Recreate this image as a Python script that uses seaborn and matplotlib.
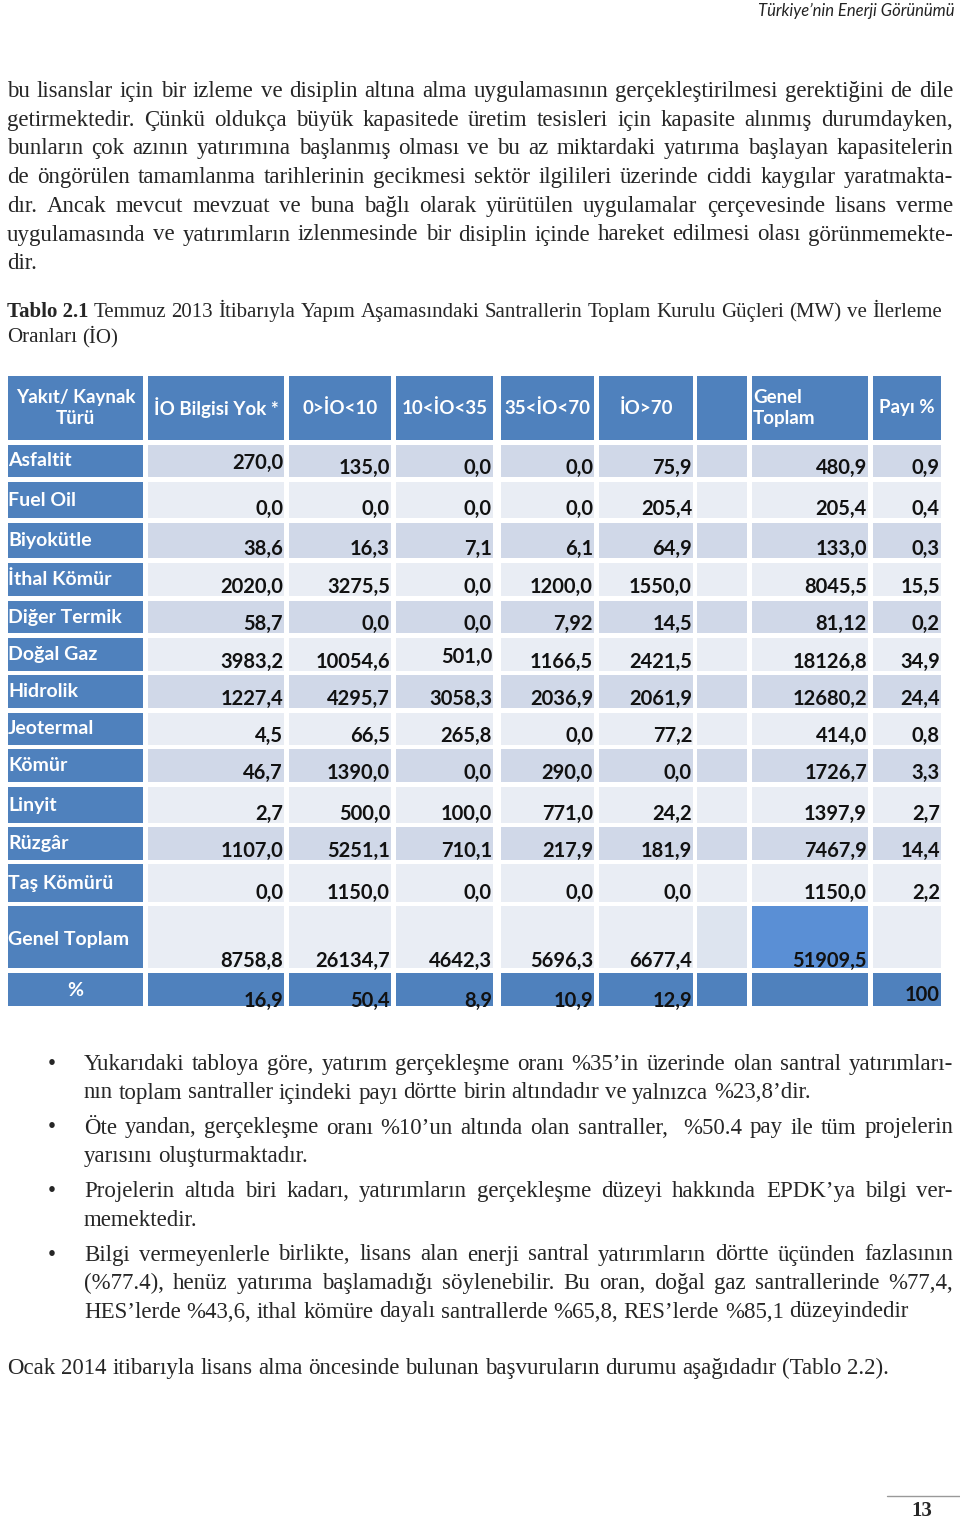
import matplotlib
matplotlib.use("Agg")
import matplotlib.pyplot as plt
from matplotlib.patches import Rectangle
import seaborn as sns

# Tablo 2.1 verileri (MW)
fuels = ["Asfaltit", "Fuel Oil", "Biyokütle", "İthal Kömür", "Diğer Termik", "Doğal Gaz",
         "Hidrolik", "Jeotermal", "Kömür", "Linyit", "Rüzgâr", "Taş Kömürü"]
bilgi_yok = [270.0, 0.0, 38.6, 2020.0, 58.7, 3983.2, 1227.4, 4.5, 46.7, 2.7, 1107.0, 0.0]
io_0_10 = [135.0, 0.0, 16.3, 3275.5, 0.0, 10054.6, 4295.7, 66.5, 1390.0, 500.0, 5251.1, 1150.0]
io_10_35 = [0.0, 0.0, 7.1, 0.0, 0.0, 501.0, 3058.3, 265.8, 0.0, 100.0, 710.1, 0.0]
io_35_70 = [0.0, 0.0, 6.1, 1200.0, 7.92, 1166.5, 2036.9, 0.0, 290.0, 771.0, 217.9, 0.0]
io_70 = [75.9, 205.4, 64.9, 1550.0, 14.5, 2421.5, 2061.9, 77.2, 0.0, 24.2, 181.9, 0.0]
genel_toplam = [480.9, 205.4, 133.0, 8045.5, 81.12, 18126.8, 12680.2, 414.0, 1726.7, 1397.9, 7467.9, 1150.0]
payi = [0.9, 0.4, 0.3, 15.5, 0.2, 34.9, 24.4, 0.8, 3.3, 2.7, 14.4, 2.2]
col_totals = [8758.8, 26134.7, 4642.3, 5696.3, 6677.4]
grand_total = 51909.5
col_pct = [16.9, 50.4, 8.9, 10.9, 12.9]
payi_total = 100

headers = ["Yakıt/ Kaynak\nTürü", "İO Bilgisi Yok *", "0>İO<10", "10<İO<35", "35<İO<70", "İO>70", "", "Genel\nToplam", "Payı %"]

# sayfa metni
para1 = [
    "bu lisanslar için bir izleme ve disiplin altına alma uygulamasının gerçekleştirilmesi gerektiğini de dile",
    "getirmektedir. Çünkü oldukça büyük kapasitede üretim tesisleri için kapasite alınmış durumdayken,",
    "bunların çok azının yatırımına başlanmış olması ve bu az miktardaki yatırıma başlayan kapasitelerin",
    "de öngörülen tamamlanma tarihlerinin gecikmesi sektör ilgilileri üzerinde ciddi kaygılar yaratmakta-",
    "dır. Ancak mevcut mevzuat ve buna bağlı olarak yürütülen uygulamalar çerçevesinde lisans verme",
    "uygulamasında ve yatırımların izlenmesinde bir disiplin içinde hareket edilmesi olası görünmemekte-",
    "dir.",
]
caption1 = "Temmuz 2013 İtibarıyla Yapım Aşamasındaki Santrallerin Toplam Kurulu Güçleri (MW) ve İlerleme"
caption2 = "Oranları (İO)"
bullets = [
    ["Yukarıdaki tabloya göre, yatırım gerçekleşme oranı %35’in üzerinde olan santral yatırımları-",
     "nın toplam santraller içindeki payı dörtte birin altındadır ve yalnızca %23,8’dir."],
    ["Öte yandan, gerçekleşme oranı %10’un altında olan santraller,  %50.4 pay ile tüm projelerin",
     "yarısını oluşturmaktadır."],
    ["Projelerin altıda biri kadarı, yatırımların gerçekleşme düzeyi hakkında EPDK’ya bilgi ver-",
     "memektedir."],
    ["Bilgi vermeyenlerle birlikte, lisans alan enerji santral yatırımların dörtte üçünden fazlasının",
     "(%77.4), henüz yatırıma başlamadığı söylenebilir. Bu oran, doğal gaz santrallerinde %77,4,",
     "HES’lerde %43,6, ithal kömüre dayalı santrallerde %65,8, RES’lerde %85,1 düzeyindedir"],
]
last_line = "Ocak 2014 itibarıyla lisans alma öncesinde bulunan başvuruların durumu aşağıdadır (Tablo 2.2)."

sns.set_theme(style="white")
plt.rcParams["font.family"] = ["DejaVu Sans"]

SERIF = ["Liberation Serif", "DejaVu Serif"]
SANS = ["Lato", "DejaVu Sans"]

fig = plt.figure(figsize=(9.6, 15.19), dpi=100)
ax = fig.add_axes([0, 0, 1, 1])
ax.set_xlim(0, 960)
ax.set_ylim(1519, 0)
ax.axis("off")
renderer = fig.canvas.get_renderer()


def text_line(line, y, x0, x1, size, justify=True, weight="normal"):
    words = line.split(" ")
    objs = [ax.text(0, y, w, fontsize=size, family=SERIF, weight=weight, va="baseline") for w in words]
    widths = [t.get_window_extent(renderer).width for t in objs]
    if justify and len(words) > 1:
        gap = (x1 - x0 - sum(widths)) / (len(words) - 1)
    else:
        gap = size * 100 / 72 * 0.25
    x = x0
    for t, w in zip(objs, widths):
        t.set_x(x)
        x += w + gap


def fmt(v):
    if isinstance(v, int):
        return str(v)
    s = f"{v:.1f}" if round(v, 1) == v else f"{v:.2f}"
    return s.replace(".", ",")


# üst bilgi
ax.text(955, 11, "Türkiye’nin Enerji Görünümü", fontsize=12, style="italic", family=SANS,
        ha="right", va="center", color="#222222")

# paragraf
body_size = 16.5
for i, line in enumerate(para1):
    text_line(line, 97 + i * 28.7, 7, 953, body_size, justify=(i < len(para1) - 1))

# tablo başlığı
cap_size = 15
t1 = ax.text(7, 317, "Tablo 2.1", fontsize=cap_size, family=SERIF, weight="bold", va="baseline")
w1 = t1.get_window_extent(renderer).width
text_line(caption1, 317, 7 + w1 + 5, 942, cap_size)
text_line(caption2, 342, 7, 942, cap_size, justify=False)

# tablo düzeni (piksel)
col_edges = [(8, 143), (148, 284), (289, 391), (396, 493), (501, 594), (599, 693), (697, 747), (752, 868), (873, 941)]
header_row = (376, 440)
row_edges = [(445, 477), (482, 518), (523, 558), (563, 596), (601, 633), (638, 671), (675, 708),
             (713, 745), (749, 782), (787, 823), (827, 860), (864, 902)]
total_row = (906, 968)
pct_row = (973, 1006)

BLUE = "#4F81BD"
DARK = "#D0D8E8"
LIGHT = "#E9EDF4"
TOTAL_BLUE = "#5A8FD5"


def cell(c, r, color):
    x0, x1 = c
    y0, y1 = r
    ax.add_patch(Rectangle((x0, y0), x1 - x0, y1 - y0, facecolor=color, edgecolor="none"))


num_size = 14.5
head_size = 13.5
lab_size = 14

# başlık satırı
for j, (c, h) in enumerate(zip(col_edges, headers)):
    cell(c, header_row, BLUE)
    if not h:
        continue
    if j == 7:
        ax.text(c[0] + 1, 408, h, fontsize=head_size, family=SANS, weight="bold", color="white",
                ha="left", va="center", linespacing=1.25)
    else:
        ax.text((c[0] + c[1]) / 2, 408, h, fontsize=head_size, family=SANS, weight="bold", color="white",
                ha="center", va="center", linespacing=1.25, multialignment="center")

# veri satırları
columns = [bilgi_yok, io_0_10, io_10_35, io_35_70, io_70]
for i, (name, r) in enumerate(zip(fuels, row_edges)):
    shade = DARK if i % 2 == 0 else LIGHT
    cell(col_edges[0], r, BLUE)
    ax.text(col_edges[0][0], (r[0] + r[1]) / 2, name, fontsize=lab_size, family=SANS, weight="bold",
            color="white", ha="left", va="center")
    vals = [col[i] for col in columns] + [None, genel_toplam[i], payi[i]]
    for j, v in enumerate(vals):
        c = col_edges[j + 1]
        cell(c, r, shade)
        if v is None:
            continue
        base = r[1] - 3
        if (i == 0 and j == 0) or (i == 5 and j == 2):
            base -= 5
        ax.text(c[1] - 1, base, fmt(v), fontsize=num_size, family=SANS, weight="bold",
                color="#111111", ha="right", va="baseline")

# genel toplam satırı
cell(col_edges[0], total_row, BLUE)
ax.text(col_edges[0][0], 940, "Genel Toplam", fontsize=lab_size, family=SANS, weight="bold",
        color="white", ha="left", va="center")
tot_vals = col_totals + [None, grand_total, None]
tot_colors = [LIGHT] * 5 + ["#DDE4EF", TOTAL_BLUE, LIGHT]
for j, (v, colr) in enumerate(zip(tot_vals, tot_colors)):
    c = col_edges[j + 1]
    cell(c, total_row, colr)
    if v is not None:
        ax.text(c[1] - 1, total_row[1] - 1, fmt(v), fontsize=num_size, family=SANS, weight="bold",
                color="#111111", ha="right", va="baseline")

# yüzde satırı
cell(col_edges[0], pct_row, BLUE)
ax.text((col_edges[0][0] + col_edges[0][1]) / 2, 991, "%", fontsize=lab_size, family=SANS, weight="bold",
        color="white", ha="center", va="center")
pct_vals = col_pct + [None, None, payi_total]
for j, v in enumerate(pct_vals):
    c = col_edges[j + 1]
    cell(c, pct_row, BLUE)
    if v is not None:
        base = pct_row[1] + 1 if j < 5 else pct_row[1] - 5
        ax.text(c[1] - 1, base, fmt(v), fontsize=num_size, family=SANS, weight="bold",
                color="#111111", ha="right", va="baseline", clip_on=False)

# maddeler
y = 1070
for lines in bullets:
    ax.text(48, y, "•", fontsize=body_size, family=SERIF, va="baseline")
    for k, line in enumerate(lines):
        text_line(line, y, 84, 953, body_size, justify=(k < len(lines) - 1))
        y += 28.5
    y += 6.5

text_line(last_line, 1374, 7, 953, body_size, justify=False)

# sayfa numarası
ax.plot([887, 960], [1496, 1496], color="#999999", lw=1)
ax.text(922, 1511, "13", fontsize=15, family=SERIF, weight="bold", ha="center", va="center")

fig.savefig("out.png", dpi=100)
